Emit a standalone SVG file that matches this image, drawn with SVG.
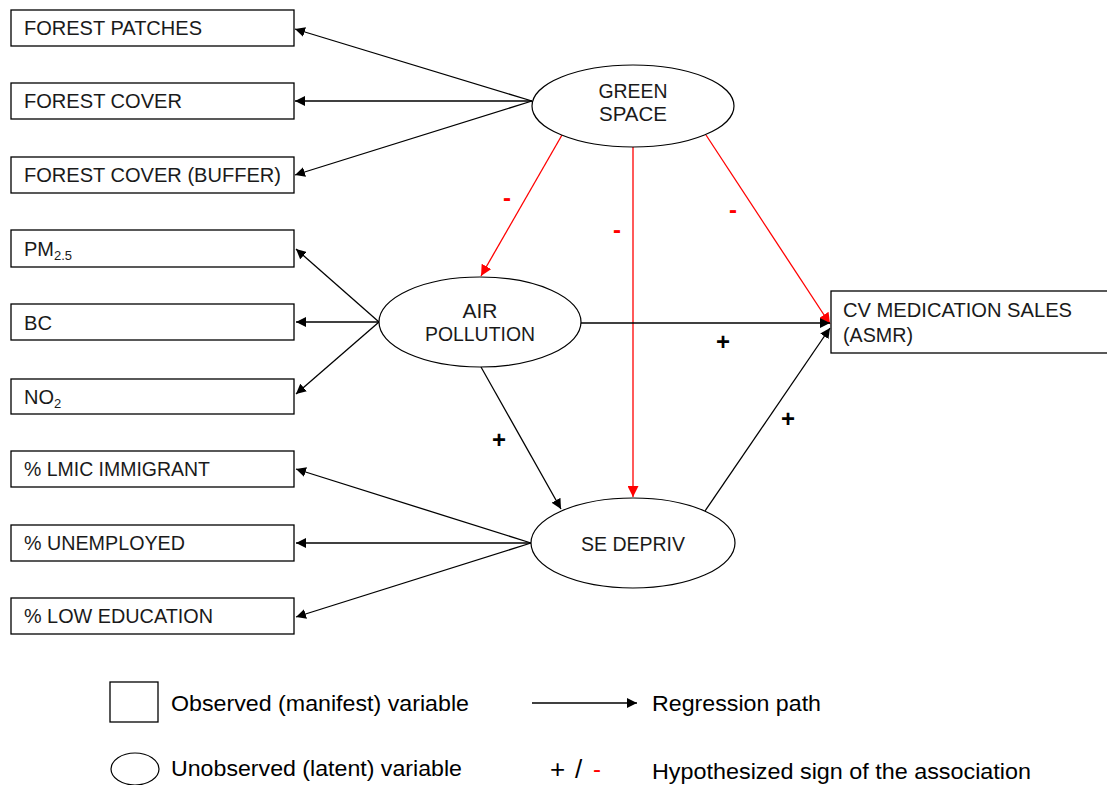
<svg xmlns="http://www.w3.org/2000/svg" width="1107" height="785" viewBox="0 0 1107 785">
  <style>
    .box { fill: #ffffff; stroke: #000000; stroke-width: 1.3; }
    .lat { fill: #ffffff; stroke: #000000; stroke-width: 1.2; }
    .lbl { font-family: "Liberation Sans", Arial, sans-serif; font-size: 20.5px; fill: #1a1a1a; }
    .mid { text-anchor: middle; }
    .leg { font-family: "Liberation Sans", Arial, sans-serif; font-size: 22.5px; fill: #000000; }
    .sub { font-size: 13px; }
    .blk { stroke: #000000; stroke-width: 1.3; fill: none; }
    .red { stroke: #ff0000; stroke-width: 1.3; fill: none; }
    .sgnb { font-family: "Liberation Sans", Arial, sans-serif; font-size: 24px; font-weight: bold; fill: #000000; text-anchor: middle; }
    .sgnr { font-family: "Liberation Sans", Arial, sans-serif; font-size: 24px; font-weight: bold; fill: #ff0000; text-anchor: middle; }
  </style>
  <defs>
    <marker id="ah" viewBox="0 0 10 10" refX="10" refY="5" markerWidth="10" markerHeight="10" markerUnits="userSpaceOnUse" orient="auto">
      <path d="M0,0 L10,5 L0,10 z" fill="#000000"/>
    </marker>
    <marker id="ahr" viewBox="0 0 10 10" refX="10" refY="5" markerWidth="11" markerHeight="11" markerUnits="userSpaceOnUse" orient="auto">
      <path d="M0,0 L10,5 L0,10 z" fill="#ff0000"/>
    </marker>
  </defs>

  <rect width="1107" height="785" fill="#ffffff"/>

  <!-- paths between latent and observed variables -->
  <g id="connectors">
    <!-- green space indicators -->
    <line class="blk" x1="532" y1="101" x2="295" y2="29" marker-end="url(#ah)"/>
    <line class="blk" x1="532" y1="101" x2="295" y2="101" marker-end="url(#ah)"/>
    <line class="blk" x1="532" y1="101" x2="295" y2="175" marker-end="url(#ah)"/>
    <!-- air pollution indicators -->
    <line class="blk" x1="379" y1="322" x2="296" y2="249" marker-end="url(#ah)"/>
    <line class="blk" x1="379" y1="322" x2="296" y2="322" marker-end="url(#ah)"/>
    <line class="blk" x1="379" y1="322" x2="296" y2="394" marker-end="url(#ah)"/>
    <!-- deprivation indicators -->
    <line class="blk" x1="531" y1="543" x2="296" y2="469" marker-end="url(#ah)"/>
    <line class="blk" x1="531" y1="543" x2="296" y2="543" marker-end="url(#ah)"/>
    <line class="blk" x1="531" y1="543" x2="296" y2="617" marker-end="url(#ah)"/>
    <!-- structural paths -->
    <line class="red" x1="562" y1="135" x2="481" y2="276" marker-end="url(#ahr)"/>
    <line class="red" x1="633" y1="147" x2="633" y2="497" marker-end="url(#ahr)"/>
    <line class="red" x1="706" y1="135" x2="830" y2="324" marker-end="url(#ahr)"/>
    <line class="blk" x1="581" y1="323" x2="830" y2="323" marker-end="url(#ah)"/>
    <line class="blk" x1="481" y1="367" x2="561" y2="509" marker-end="url(#ah)"/>
    <line class="blk" x1="705" y1="511" x2="830" y2="328" marker-end="url(#ah)"/>
  </g>

  <!-- hypothesized signs -->
  <g id="signs">
    <text class="sgnr" x="507" y="206">-</text>
    <text class="sgnr" x="617" y="238">-</text>
    <text class="sgnr" x="733" y="218">-</text>
    <text class="sgnb" x="723" y="350">+</text>
    <text class="sgnb" x="499" y="448">+</text>
    <text class="sgnb" x="788" y="427">+</text>
  </g>

  <!-- observed variables -->
  <g id="forest-patches">
    <rect class="box" x="11" y="10" width="283" height="36"/>
    <text class="lbl" x="24" y="35" textLength="178" lengthAdjust="spacingAndGlyphs">FOREST PATCHES</text>
  </g>
  <g id="forest-cover">
    <rect class="box" x="11" y="83" width="283" height="36"/>
    <text class="lbl" x="24" y="108" textLength="158" lengthAdjust="spacingAndGlyphs">FOREST COVER</text>
  </g>
  <g id="forest-cover-buffer">
    <rect class="box" x="11" y="157" width="283" height="36"/>
    <text class="lbl" x="24" y="182" textLength="257" lengthAdjust="spacingAndGlyphs">FOREST COVER (BUFFER)</text>
  </g>
  <g id="pm25">
    <rect class="box" x="11" y="230" width="283" height="37"/>
    <text class="lbl" x="24" y="256"><tspan textLength="30" lengthAdjust="spacingAndGlyphs">PM</tspan><tspan class="sub" dy="4">2.5</tspan></text>
  </g>
  <g id="bc">
    <rect class="box" x="11" y="304" width="283" height="36"/>
    <text class="lbl" x="24" y="330" textLength="28" lengthAdjust="spacingAndGlyphs">BC</text>
  </g>
  <g id="no2">
    <rect class="box" x="11" y="379" width="283" height="35"/>
    <text class="lbl" x="24" y="404"><tspan textLength="30" lengthAdjust="spacingAndGlyphs">NO</tspan><tspan class="sub" dy="4">2</tspan></text>
  </g>
  <g id="lmic-immigrant">
    <rect class="box" x="11" y="451" width="283" height="36"/>
    <text class="lbl" x="24" y="476" textLength="186" lengthAdjust="spacingAndGlyphs">% LMIC IMMIGRANT</text>
  </g>
  <g id="unemployed">
    <rect class="box" x="11" y="525" width="283" height="36"/>
    <text class="lbl" x="24" y="550" textLength="161" lengthAdjust="spacingAndGlyphs">% UNEMPLOYED</text>
  </g>
  <g id="low-education">
    <rect class="box" x="11" y="598" width="283" height="36"/>
    <text class="lbl" x="24" y="623" textLength="189" lengthAdjust="spacingAndGlyphs">% LOW EDUCATION</text>
  </g>
  <g id="cv-medication">
    <rect class="box" x="831" y="291" width="282" height="62"/>
    <text class="lbl" x="843" y="317" textLength="229" lengthAdjust="spacingAndGlyphs">CV MEDICATION  SALES</text>
    <text class="lbl" x="843" y="342" textLength="70" lengthAdjust="spacingAndGlyphs">(ASMR)</text>
  </g>

  <!-- latent variables -->
  <g id="green-space">
    <ellipse class="lat" cx="633" cy="106" rx="101" ry="41"/>
    <text class="lbl mid" x="633" y="98" textLength="69" lengthAdjust="spacingAndGlyphs">GREEN</text>
    <text class="lbl mid" x="633" y="121" textLength="68" lengthAdjust="spacingAndGlyphs">SPACE</text>
  </g>
  <g id="air-pollution">
    <ellipse class="lat" cx="480" cy="322" rx="101" ry="45"/>
    <text class="lbl mid" x="480" y="318" textLength="35" lengthAdjust="spacingAndGlyphs">AIR</text>
    <text class="lbl mid" x="480" y="341" textLength="110" lengthAdjust="spacingAndGlyphs">POLLUTION</text>
  </g>
  <g id="se-depriv">
    <ellipse class="lat" cx="633" cy="543" rx="102" ry="45"/>
    <text class="lbl mid" x="633" y="551" textLength="104" lengthAdjust="spacingAndGlyphs">SE DEPRIV</text>
  </g>

  <!-- legend -->
  <g id="legend">
    <rect class="box" x="110" y="682" width="48" height="40"/>
    <text class="leg" x="171" y="711" textLength="298" lengthAdjust="spacingAndGlyphs">Observed (manifest) variable</text>
    <line class="blk" x1="532" y1="703" x2="637" y2="703" marker-end="url(#ah)"/>
    <text class="leg" x="652" y="711" textLength="169" lengthAdjust="spacingAndGlyphs">Regression path</text>
    <ellipse class="lat" cx="135" cy="769" rx="24" ry="16"/>
    <text class="leg" x="171" y="776" textLength="291" lengthAdjust="spacingAndGlyphs">Unobserved (latent) variable</text>
    <text class="leg" x="550" y="778" style="font-size:26px">+</text>
    <text class="leg" x="575" y="778" style="font-size:26px">/</text>
    <text class="leg" x="593" y="777" style="fill:#ff0000;font-size:24px">-</text>
    <text class="leg" x="652" y="779" textLength="379" lengthAdjust="spacingAndGlyphs">Hypothesized sign of the association</text>
  </g>
</svg>
